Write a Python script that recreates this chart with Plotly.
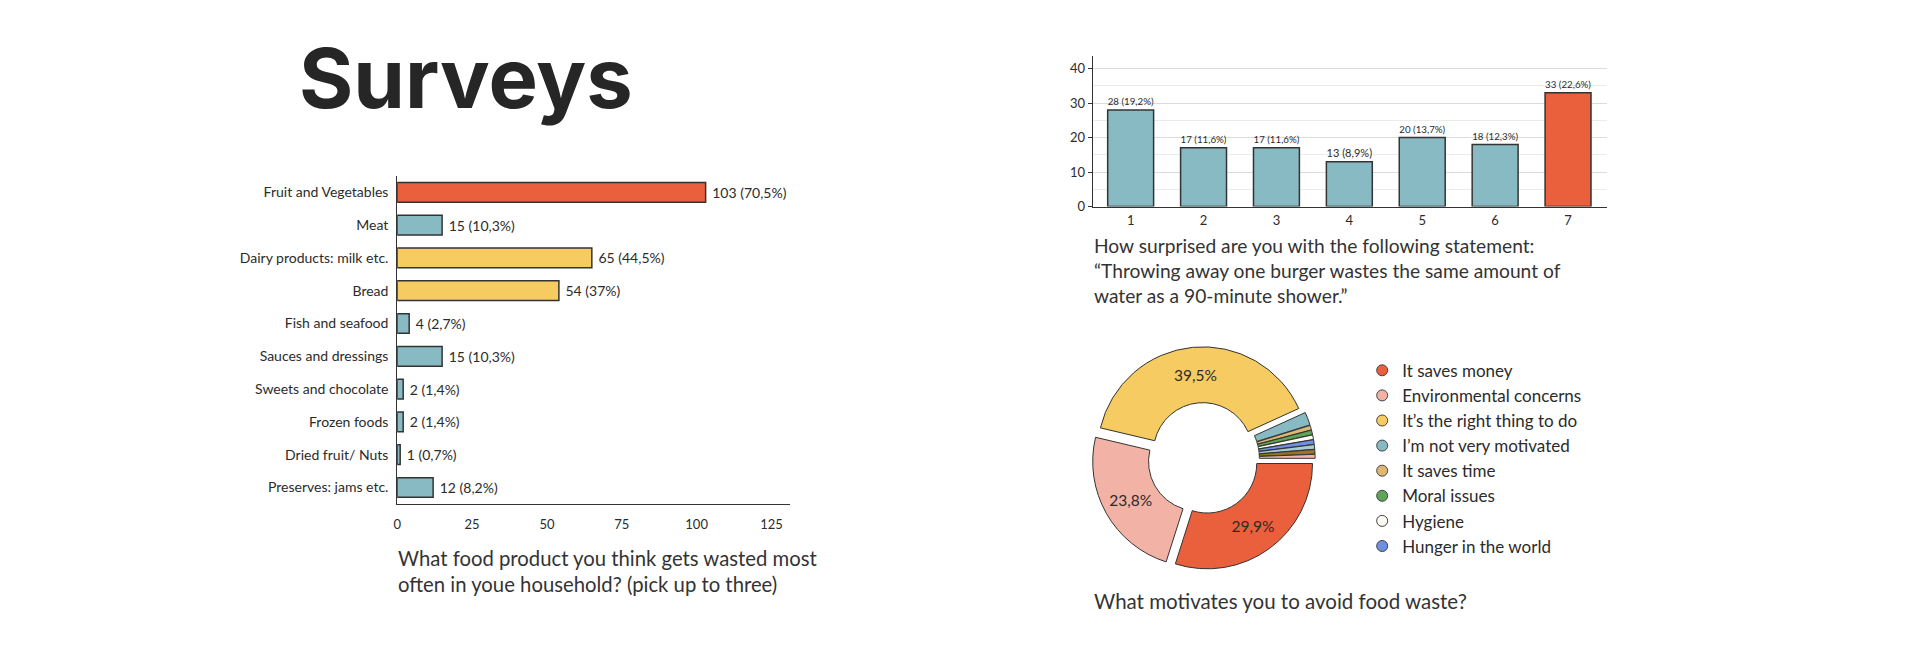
import plotly.graph_objects as go

W, H = 1920, 655

# --- data -------------------------------------------------------------
food_items = ['Fruit and Vegetables', 'Meat', 'Dairy products: milk etc.', 'Bread',
              'Fish and seafood', 'Sauces and dressings', 'Sweets and chocolate',
              'Frozen foods', 'Dried fruit/ Nuts', 'Preserves: jams etc.']
food_counts = [103, 15, 65, 54, 4, 15, 2, 2, 1, 12]
food_pcts = ['70,5%', '10,3%', '44,5%', '37%', '2,7%', '10,3%', '1,4%', '1,4%', '0,7%', '8,2%']

surprise_scale = ['1', '2', '3', '4', '5', '6', '7']
surprise_counts = [28, 17, 17, 13, 20, 18, 33]
surprise_pcts = ['19,2%', '11,6%', '11,6%', '8,9%', '13,7%', '12,3%', '22,6%']

motive_labels = ['It saves money', 'Environmental concerns', "It\u2019s the right thing to do",
                 "I\u2019m not very motivated", 'It saves time', 'Moral issues', 'Hygiene',
                 'Hunger in the world', 'Other 1', 'Other 2', 'Other 3']
motive_pcts = [29.9, 23.8, 39.5, 2.0, 0.7, 0.7, 0.7, 0.7, 0.7, 0.7, 0.6]
motive_text = ['29,9%', '23,8%', '39,5%', '', '', '', '', '', '', '', '']
legend_count = 8  # only the first 8 answers are listed in the legend

# colours
RED = '#EA603C'
TEAL = '#88BAC3'
YELLOW = '#F6CB61'
motive_colors = [RED, '#F2B3A6', YELLOW, TEAL, '#DDB870', '#5FA557', '#FDFBF2',
                 '#6F90E2', '#A4CDD3', '#9A7620', '#F5B6AA']
food_colors = [RED, TEAL, YELLOW, YELLOW, TEAL, TEAL, TEAL, TEAL, TEAL, TEAL]
surprise_colors = [TEAL] * 6 + [RED]

FONT = 'Lato'
DARK = '#2b2b2b'


def px(x):
    return x / W


def py(y):
    return 1 - y / H


fig = go.Figure()

# chart 1: horizontal bars
fig.add_trace(go.Bar(
    y=food_items, x=food_counts, orientation='h',
    marker=dict(color=food_colors, line=dict(color='#333333', width=1.5)),
    text=[f' {c} ({p})' for c, p in zip(food_counts, food_pcts)],
    textposition='outside', textfont=dict(size=14, color=DARK, family=FONT),
    cliponaxis=False, showlegend=False, xaxis='x', yaxis='y',
))

# chart 2: vertical bars
fig.add_trace(go.Bar(
    x=surprise_scale, y=surprise_counts, width=0.63,
    marker=dict(color=surprise_colors, line=dict(color='#333333', width=1.5)),
    text=[f'{c} ({p})' for c, p in zip(surprise_counts, surprise_pcts)],
    textposition='outside', textfont=dict(size=11, color=DARK, family=FONT),
    cliponaxis=False, showlegend=False, xaxis='x2', yaxis='y2',
))

# chart 3: donut
fig.add_trace(go.Pie(
    labels=motive_labels, values=motive_pcts, text=motive_text,
    textinfo='text', textposition='inside', insidetextorientation='horizontal',
    textfont=dict(size=15.5, color=DARK, family=FONT),
    marker=dict(colors=motive_colors, line=dict(color='#333333', width=1)),
    hole=0.47, sort=False, direction='clockwise', rotation=90,
    pull=[0.06] * len(motive_labels), showlegend=False,
    domain=dict(x=[px(1081), px(1307)], y=[py(569), py(343)]),
))

# legend entries as circle markers
for lab, col in zip(motive_labels[:legend_count], motive_colors[:legend_count]):
    fig.add_trace(go.Scatter(
        x=[None], y=[None], mode='markers', name=lab,
        marker=dict(symbol='circle', size=11, color=col, line=dict(color='#444444', width=1)),
        xaxis='x2', yaxis='y2',
    ))

fig.update_layout(
    width=W, height=H, margin=dict(l=0, r=0, t=0, b=0),
    paper_bgcolor='white', plot_bgcolor='white',
    font=dict(family=FONT, color=DARK),
    bargap=0.4,
    xaxis=dict(domain=[px(386), px(780)], range=[0, 131.3], tickvals=[0, 25, 50, 75, 100, 125],
               showgrid=False, zeroline=False, showline=True, linecolor='#333333', linewidth=1,
               ticks='', ticklabelstandoff=9, tickfont=dict(size=13, color=DARK), anchor='y'),
    yaxis=dict(domain=[py(502), py(170)], autorange='reversed', showgrid=False, zeroline=False,
               showline=True, linecolor='#333333', linewidth=1, ticks='', ticklabelstandoff=5,
               tickfont=dict(size=14, color=DARK), anchor='x'),
    xaxis2=dict(domain=[px(1083), px(1598)], range=[-0.52, 6.53], showgrid=False, zeroline=False,
                showline=True, linecolor='#333333', linewidth=1, ticks='', ticklabelstandoff=2,
                tickfont=dict(size=13, color=DARK), anchor='y2'),
    yaxis2=dict(domain=[py(201), py(49)], range=[0, 43.5], tickvals=[0, 10, 20, 30, 40],
                showgrid=True, gridcolor='#dcdcdc', zeroline=False,
                minor=dict(dtick=5, showgrid=True, gridcolor='#ebebeb'),
                showline=True, linecolor='#333333', linewidth=1, ticks='outside', ticklen=4,
                tickcolor='#333333', tickfont=dict(size=13, color=DARK), anchor='x2'),
    legend=dict(x=px(1353), y=py(349), xanchor='left', yanchor='top',
                font=dict(size=17, color=DARK, family=FONT), bgcolor='rgba(0,0,0,0)',
                itemclick=False, itemdoubleclick=False),
)

# title and captions
fig.add_annotation(text='<b>Surveys</b>', x=px(286), y=py(71), xref='paper', yref='paper',
                   xanchor='left', yanchor='middle', showarrow=False,
                   font=dict(family='Inter', size=83, color='#262626'))
fig.add_annotation(text='What food product you think gets wasted most<br>often in youe household? (pick up to three)',
                   x=px(385), y=py(543), xref='paper', yref='paper', xanchor='left', yanchor='top',
                   align='left', showarrow=False, font=dict(size=20.3, color='#333333'))
fig.add_annotation(text='How surprised are you with the following statement:<br>'
                        '\u201cThrowing away one burger wastes the same amount of<br>'
                        'water as a 90-minute shower.\u201d',
                   x=px(1082), y=py(227), xref='paper', yref='paper', xanchor='left', yanchor='top',
                   align='left', showarrow=False, font=dict(size=19.2, color='#333333'))
fig.add_annotation(text='What motivates you to avoid food waste?',
                   x=px(1082), y=py(600), xref='paper', yref='paper', xanchor='left', yanchor='middle',
                   align='left', showarrow=False, font=dict(size=20.5, color='#333333'))

fig.write_html('out.html')
